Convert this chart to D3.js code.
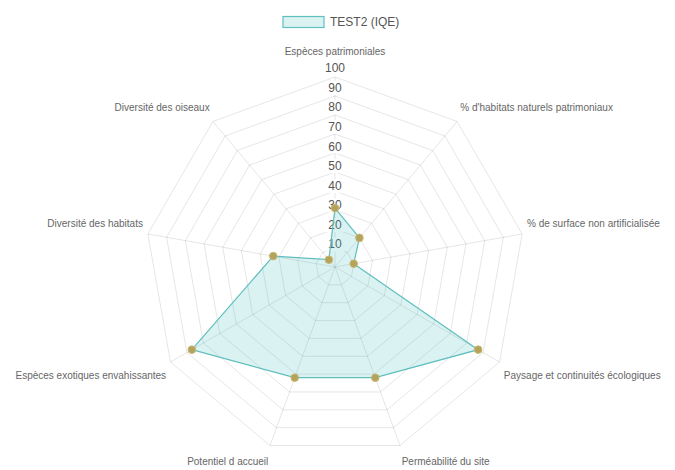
<!DOCTYPE html>
<html>
<head>
<meta charset="utf-8">
<script src="https://cdn.jsdelivr.net/npm/d3@7"></script>
<style>
  body { margin: 0; background: #fff; }
  svg { display: block; font-family: "Liberation Sans", Arial, sans-serif; }
</style>
</head>
<body>
<svg id="chart" width="675" height="470"></svg>
<script>
// radar data
var axisLabels = [
  "Espèces patrimoniales",
  "% d'habitats naturels patrimoniaux",
  "% de surface non artificialisée",
  "Paysage et continuités écologiques",
  "Perméabilité du site",
  "Potentiel d accueil",
  "Espèces exotiques envahissantes",
  "Diversité des habitats",
  "Diversité des oiseaux"
];
var seriesName = "TEST2 (IQE)";
var seriesValues = [31, 20, 10, 87, 62, 62, 87, 33, 5];
var tickValues = [10, 20, 30, 40, 50, 60, 70, 80, 90, 100];

var svg = d3.select("#chart");
var cx = 335, cy = 267, R = 190;
var n = axisLabels.length;

var r = d3.scaleLinear().domain([0, 100]).range([0, R]);
var angle = d3.scaleLinear().domain([0, n]).range([0, 2 * Math.PI]);

function pos(i, dist) {
    var a = angle(i) - Math.PI / 2;
    return [cx + dist * Math.cos(a), cy + dist * Math.sin(a)];
}

var grid = svg.append("g");

// rings
tickValues.forEach(function (t) {
    var pts = d3.range(n).map(function (i) { return pos(i, r(t)); });
    grid.append("polygon")
        .attr("points", pts.map(function (p) { return p.join(","); }).join(" "))
        .attr("fill", "none")
        .attr("stroke", "rgba(0,0,0,0.1)")
        .attr("stroke-width", 1);
});

// angle lines
d3.range(n).forEach(function (i) {
    var p = pos(i, R);
    grid.append("line")
        .attr("x1", cx).attr("y1", cy)
        .attr("x2", p[0]).attr("y2", p[1])
        .attr("stroke", "rgba(0,0,0,0.1)");
});

// point labels, placed roughly like chart.js does
d3.range(n).forEach(function (i) {
    var deg = angle(i) * 180 / Math.PI;
    var p = pos(i, R + 5);
    var anchor = (deg === 0 || deg === 180) ? "middle" : (deg < 180 ? "start" : "end");
    var dy;
    if (i === 0) dy = -21;
    else if (deg < 90 || deg > 270) dy = -10;
    else dy = 11;
    grid.append("text")
        .attr("x", p[0]).attr("y", p[1] + dy)
        .attr("text-anchor", anchor)
        .attr("dominant-baseline", "central")
        .attr("font-size", 10)
        .attr("fill", "#666")
        .text(axisLabels[i]);
});

// tick labels with white backdrop
var tickG = svg.append("g");
tickValues.forEach(function (t) {
    var y = cy - r(t) * 1.03 - 3;
    var txt = tickG.append("text")
        .attr("x", cx).attr("y", y)
        .attr("text-anchor", "middle")
        .attr("dominant-baseline", "central")
        .attr("font-size", 12)
        .attr("fill", "#555")
        .text(t);
    var bb = txt.node().getBBox();
    tickG.insert("rect", "text")
        .attr("x", bb.x - 2).attr("y", bb.y)
        .attr("width", bb.width + 4).attr("height", bb.height)
        .attr("fill", "#fff");
});

// data polygon
var dataPts = seriesValues.map(function (v, i) { return pos(i, r(v)); });
svg.append("polygon")
    .attr("points", dataPts.map(function (p) { return p.join(","); }).join(" "))
    .attr("fill", "rgba(75,192,192,0.2)")
    .attr("stroke", "rgb(95,190,190)")
    .attr("stroke-width", 1.2);

svg.selectAll("circle.pt")
    .data(dataPts)
    .enter().append("circle")
    .attr("class", "pt")
    .attr("cx", function (d) { return d[0]; })
    .attr("cy", function (d) { return d[1]; })
    .attr("r", 3.8)
    .attr("fill", "#b3a35c")
    .attr("stroke", "#c8b870")
    .attr("stroke-width", 1);

// legend
var legend = svg.append("g");
legend.append("rect")
    .attr("x", 283).attr("y", 16.5)
    .attr("width", 41).attr("height", 11)
    .attr("fill", "rgba(75,192,192,0.2)")
    .attr("stroke", "rgb(95,190,190)")
    .attr("stroke-width", 1.2);
legend.append("text")
    .attr("x", 330).attr("y", 22)
    .attr("dominant-baseline", "central")
    .attr("font-size", 12)
    .attr("fill", "#555")
    .text(seriesName);
</script>
</body>
</html>
